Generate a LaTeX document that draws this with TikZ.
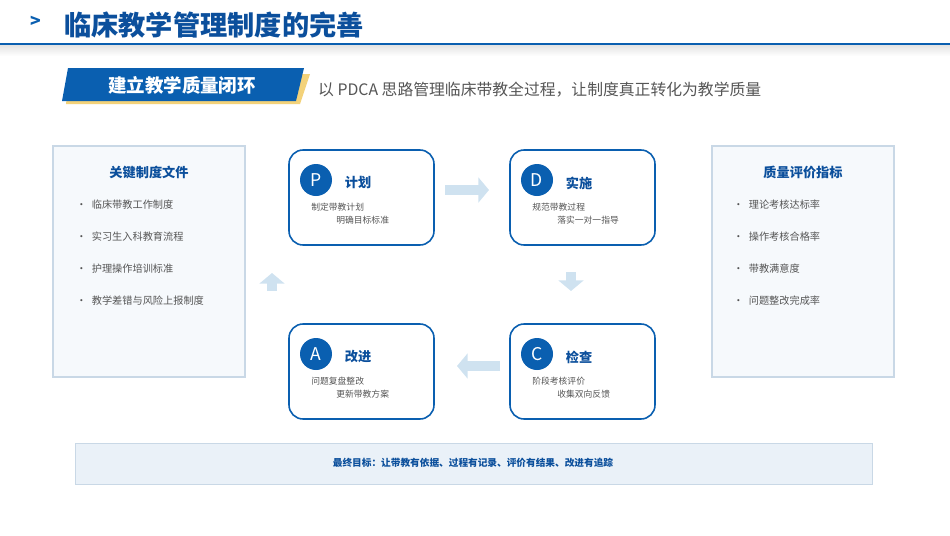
\documentclass[tikz,border=0pt]{standalone}
\usepackage{fontspec}
\setmainfont{Noto Sans CJK SC}
\usetikzlibrary{shapes,arrows.meta,calc,positioning}
\definecolor{mainBlue}{HTML}{0A5FB0}
\definecolor{titleBlue}{HTML}{0B4F9C}
\definecolor{paleBlue}{HTML}{CFE2F0}
\definecolor{panelFill}{HTML}{F6F9FC}
\definecolor{panelLine}{HTML}{C9D8E6}
\definecolor{barFill}{HTML}{EAF1F8}
\definecolor{textGray}{HTML}{555555}
\definecolor{bannerGold}{HTML}{F3D27A}
\begin{document}
\begin{tikzpicture}[x=0.02cm,y=-0.02cm]
    \tikzstyle{stage} = [draw=mainBlue, line width=0.9pt, rounded corners=8pt, fill=white]
    \tikzstyle{panel} = [draw=panelLine, fill=panelFill, line width=0.6pt]
    \tikzstyle{letter} = [circle, fill=mainBlue, text=white, minimum size=0.64cm, inner sep=0pt, font=\fontsize{10}{10}\selectfont]
    \tikzstyle{stageTitle} = [text=titleBlue, font=\bfseries\fontsize{7.5}{8}\selectfont]
    \tikzstyle{sub} = [anchor=west, text=textGray, inner sep=0pt, font=\fontsize{5}{6}\selectfont]
    \tikzstyle{item} = [anchor=west, text=textGray, inner sep=0pt, font=\fontsize{5.8}{7}\selectfont]
    \tikzstyle{flow} = [paleBlue, line width=6pt, -{Triangle[width=14pt,length=6pt]}]

    \useasboundingbox (0,0) rectangle (950,535);

    % header
    \node (chevron) [text=mainBlue, font=\bfseries\fontsize{10}{10}\selectfont] at (36,22) {>};
    \node (title) [anchor=west, text=titleBlue, font=\bfseries\fontsize{15.5}{16}\selectfont] at (58,25) {临床教学管理制度的完善};
    \shade [top color=black!12, bottom color=white] (0,44) rectangle (950,56);
    \draw [mainBlue, line width=0.8pt] (0,44) -- (950,44);

    % banner
    \fill [bannerGold] (70,74) -- (310,74) -- (300,104) -- (66,104) -- cycle;
    \fill [mainBlue] (68,68) -- (304,68) -- (296,101) -- (62,101) -- cycle;
    \node (banner) [text=white, font=\bfseries\fontsize{10.5}{11}\selectfont] at (182,85) {建立教学质量闭环};
    \node (lead) [anchor=west, right=12pt of banner.east, xshift=0pt, text=textGray, font=\fontsize{9}{10}\selectfont] at (304,90) {};
    \node (subtitle) [anchor=west, text=textGray, font=\fontsize{9}{10}\selectfont] at (312,90) {以 PDCA 思路管理临床带教全过程，让制度真正转化为教学质量};

    % side panels
    \draw [panel] (53,146) rectangle (245,377);
    \node (docsTitle) [stageTitle] at (149,172) {关键制度文件};
    \draw [panel] (712,146) rectangle (894,377);
    \node (kpiTitle) [stageTitle] at (803,172) {质量评价指标};
    \foreach \txt [count=\i] in {临床带教工作制度, 实习生入科教育流程, 护理操作培训标准, 教学差错与风险上报制度}
        \node (doc\i) [item] at (76,173+32*\i) {·\hspace{3pt}\txt};
    \foreach \txt [count=\i] in {理论考核达标率, 操作考核合格率, 带教满意度, 问题整改完成率}
        \node (kpi\i) [item] at (733,173+32*\i) {·\hspace{3pt}\txt};

    % PDCA stages
    \foreach \nm/\x/\y/\ltr/\ttl/\la/\lb in {
        P/289/150/P/计划/制定带教计划/明确目标标准,
        D/510/150/D/实施/规范带教过程/落实一对一指导,
        A/289/324/A/改进/问题复盘整改/更新带教方案,
        C/510/324/C/检查/阶段考核评价/收集双向反馈} {
        \draw [stage] (\x,\y) rectangle ++(145,95);
        \node (\nm) [letter] at (\x+27,\y+30) {\ltr};
        \node (\nm title) [stageTitle] at (\x+69,\y+33) {\ttl};
        \node (\nm one) [sub] at (\x+22,\y+57) {\la};
        \node (\nm two) [sub] at (\x+47,\y+70) {\lb};
    }

    % loop arrows
    \coordinate (pdS) at (445,190); \coordinate (pdE) at (489,190);
    \coordinate (dcS) at (571,272); \coordinate (dcE) at (571,291);
    \coordinate (caS) at (500,366); \coordinate (caE) at (457,366);
    \coordinate (apS) at (272,291); \coordinate (apE) at (272,273);
    \draw [flow] (pdS) -- (pdE);
    \draw [flow] (dcS) -- (dcE);
    \draw [flow] (caS) -- (caE);
    \draw [flow] (apS) -- (apE);

    % goal bar
    \draw [fill=barFill, draw=panelLine, line width=0.5pt] (75,443) rectangle (872,484);
    \node (goal) [text=titleBlue, font=\bfseries\fontsize{5.5}{6}\selectfont] at (473,463) {最终目标：让带教有依据、过程有记录、评价有结果、改进有追踪};
\end{tikzpicture}
\end{document}
